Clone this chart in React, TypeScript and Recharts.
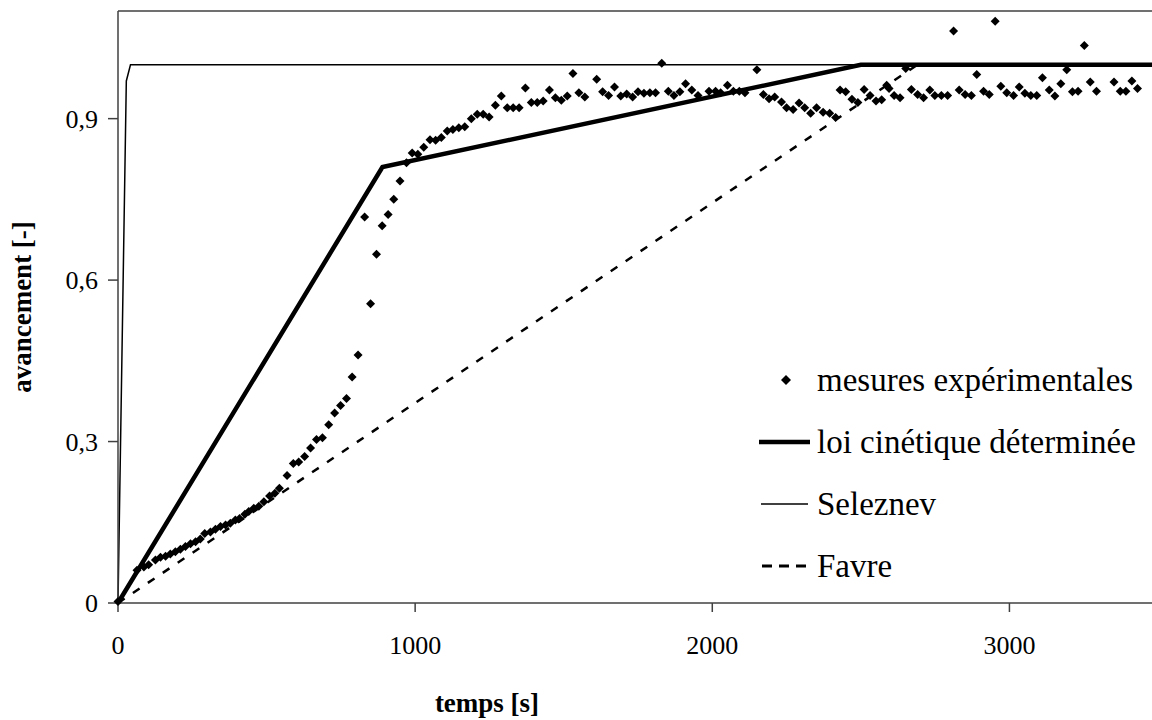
import { ComposedChart, Line, Scatter, XAxis, YAxis, ReferenceLine } from 'recharts';

// experimental points (t in s, avancement)
const mesuresT = [
  0, 64, 87, 103, 126, 143, 160, 176, 193, 210, 227, 244, 261, 277, 292, 311, 328, 345, 362, 378,
  395, 409, 427, 440, 457, 474, 491, 510, 528, 543, 569, 590, 608, 628, 648, 668, 688, 709, 729, 749,
  769, 788, 808, 830, 850, 870, 889, 909, 928, 949, 971, 990, 1009, 1029, 1050, 1069, 1088, 1108, 1127, 1147,
  1167, 1189, 1209, 1229, 1249, 1270, 1290, 1310, 1330, 1350, 1371, 1391, 1411, 1431, 1452, 1472, 1492, 1512, 1531, 1551,
  1571, 1611, 1631, 1651, 1671, 1692, 1712, 1732, 1750, 1770, 1790, 1809, 1830, 1852, 1871, 1891, 1910, 1931, 1952, 1989,
  2011, 2028, 2051, 2071, 2091, 2110, 2150, 2172, 2191, 2210, 2233, 2250, 2272, 2292, 2311, 2331, 2351, 2373, 2395, 2415,
  2430, 2449, 2470, 2490, 2511, 2531, 2551, 2570, 2587, 2595, 2612, 2632, 2651, 2670, 2691, 2711, 2732, 2749, 2771, 2792,
  2812, 2831, 2851, 2872, 2890, 2913, 2932, 2952, 2971, 2991, 3014, 3033, 3052, 3072, 3092, 3111, 3134, 3153, 3173, 3193,
  3212, 3231, 3252, 3272, 3293, 3352, 3373, 3392, 3412, 3431,
];
const mesuresV = [
  0.003, 0.061, 0.067, 0.071, 0.08, 0.085, 0.087, 0.091, 0.095, 0.1, 0.105, 0.11, 0.114, 0.119, 0.129, 0.132, 0.137, 0.142, 0.145, 0.148,
  0.154, 0.157, 0.165, 0.17, 0.176, 0.18, 0.188, 0.199, 0.204, 0.213, 0.237, 0.259, 0.262, 0.272, 0.288, 0.304, 0.307, 0.331, 0.353, 0.367,
  0.38, 0.42, 0.461, 0.717, 0.556, 0.648, 0.701, 0.722, 0.75, 0.784, 0.818, 0.836, 0.834, 0.847, 0.861, 0.86, 0.865, 0.877, 0.88, 0.883,
  0.885, 0.9, 0.908, 0.908, 0.903, 0.925, 0.942, 0.92, 0.92, 0.92, 0.957, 0.93, 0.93, 0.933, 0.953, 0.939, 0.934, 0.942, 0.984, 0.948,
  0.94, 0.973, 0.95, 0.943, 0.959, 0.942, 0.946, 0.94, 0.95, 0.947, 0.948, 0.948, 1.003, 0.951, 0.943, 0.95, 0.965, 0.953, 0.943, 0.951,
  0.951, 0.948, 0.962, 0.951, 0.951, 0.948, 0.991, 0.945, 0.937, 0.94, 0.931, 0.92, 0.917, 0.929, 0.92, 0.91, 0.92, 0.912, 0.91, 0.902,
  0.953, 0.95, 0.936, 0.93, 0.954, 0.943, 0.933, 0.935, 0.962, 0.956, 0.943, 0.939, 0.993, 0.954, 0.945, 0.939, 0.953, 0.943, 0.943, 0.943,
  1.063, 0.953, 0.945, 0.943, 0.982, 0.951, 0.945, 1.081, 0.96, 0.948, 0.943, 0.959, 0.947, 0.943, 0.943, 0.976, 0.953, 0.942, 0.965, 0.991,
  0.95, 0.951, 1.036, 0.968, 0.951, 0.968, 0.951, 0.951, 0.97, 0.956,
];

// model curves
const loiT = [0, 890, 2500, 3500];
const loiV = [0, 0.81, 1.0, 1.0];
const selT = [0, 28, 42, 3500];
const selV = [0, 0.97, 1.0, 1.0];
const favT = [0, 2690, 3500];
const favV = [0, 1.0, 1.0];

const xTicks = [0, 1000, 2000, 3000];
const yTicks = [0, 0.3, 0.6, 0.9];

const zip = (ts: number[], vs: number[]) => ts.map((t, i) => ({ t, v: vs[i] }));
const mesures = zip(mesuresT, mesuresV);
const loi = zip(loiT, loiV);
const seleznev = zip(selT, selV);
const favre = zip(favT, favV);

const FONT = '"Liberation Serif", "Times New Roman", serif';
const AXIS = '#404040';

const Diamond = ({ cx, cy }: any) => {
  const r = 4.5;
  return <polygon points={`${cx},${cy - r} ${cx + r},${cy} ${cx},${cy + r} ${cx - r},${cy}`} fill="#000" />;
};

const legendRows = [
  { name: 'mesures expérimentales', kind: 'dot' },
  { name: 'loi cinétique déterminée', kind: 'thick' },
  { name: 'Seleznev', kind: 'thin' },
  { name: 'Favre', kind: 'dash' },
];

const LegendBox = () => (
  <div style={{ position: 'absolute', left: 759, top: 349, fontFamily: FONT, fontSize: 33, color: '#000' }}>
    {legendRows.map((r) => (
      <div key={r.name} style={{ height: 62, display: 'flex', alignItems: 'center' }}>
        <svg width={58} height={20} style={{ flex: 'none' }}>
          {r.kind === 'dot' && <polygon points="27,5 32,10 27,15 22,10" fill="#000" />}
          {r.kind === 'thick' && <line x1={0} y1={10} x2={51} y2={10} stroke="#000" strokeWidth={4.5} />}
          {r.kind === 'thin' && <line x1={2} y1={10} x2={49} y2={10} stroke="#000" strokeWidth={1.3} />}
          {r.kind === 'dash' && (
            <line x1={3} y1={10} x2={48} y2={10} stroke="#000" strokeWidth={3} strokeDasharray="10 7" />
          )}
        </svg>
        <span style={{ lineHeight: 1, whiteSpace: 'nowrap' }}>{r.name}</span>
      </div>
    ))}
  </div>
);

export default function App() {
  return (
    <div style={{ position: 'fixed', left: 0, top: 0, width: 1152, height: 720, overflow: 'hidden', background: '#fff' }}>
      <ComposedChart width={1168} height={720} margin={{ top: 11, right: 10, bottom: 0, left: 0 }}>
        <XAxis
          type="number"
          dataKey="t"
          domain={[0, 3500]}
          ticks={xTicks}
          tickSize={9}
          tickMargin={24}
          height={117}
          stroke={AXIS}
          strokeWidth={1.5}
          tick={{ fontSize: 26, fill: '#000', fontFamily: FONT }}
          label={{
            content: () => (
              <text x={487} y={712} textAnchor="middle" fontFamily={FONT} fontSize={27} fontWeight="bold" fill="#000">
                temps [s]
              </text>
            ),
          }}
        />
        <YAxis
          type="number"
          dataKey="v"
          domain={[0, 1.1]}
          ticks={yTicks}
          width={118}
          tickSize={10}
          tickMargin={10}
          stroke={AXIS}
          strokeWidth={1.5}
          tickFormatter={(v: number) => (v === 0 ? '0' : v.toFixed(1).replace('.', ','))}
          tick={{ fontSize: 26, fill: '#000', fontFamily: FONT }}
          label={{
            content: () => (
              <text
                x={22}
                y={307}
                transform="rotate(-90, 22, 307)"
                textAnchor="middle"
                dominantBaseline="central"
                fontFamily={FONT}
                fontSize={27}
                fontWeight="bold"
                fill="#000"
              >
                avancement [-]
              </text>
            ),
          }}
        />
        <ReferenceLine y={1.1} stroke={AXIS} strokeWidth={1.5} />
        <Scatter name="mesures expérimentales" data={mesures} shape={<Diamond />} isAnimationActive={false} />
        <Line data={seleznev} dataKey="v" type="linear" stroke="#000" strokeWidth={1.5} dot={false} isAnimationActive={false} />
        <Line data={favre} dataKey="v" type="linear" stroke="#000" strokeWidth={2.5} strokeDasharray="8 10" dot={false} isAnimationActive={false} />
        <Line data={loi} dataKey="v" type="linear" stroke="#000" strokeWidth={4.5} dot={false} isAnimationActive={false} />
      </ComposedChart>
      <LegendBox />
    </div>
  );
}
